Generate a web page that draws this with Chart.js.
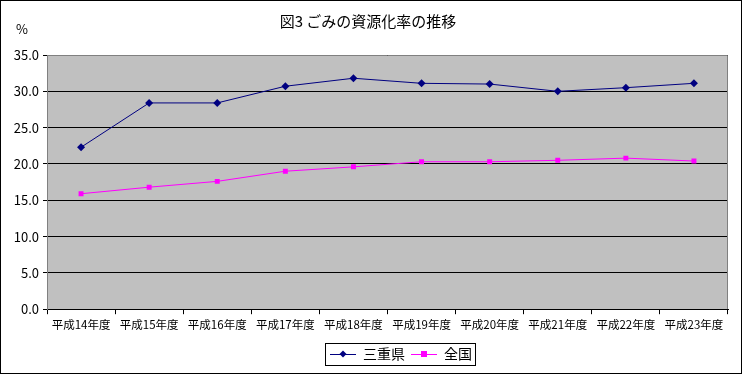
<!DOCTYPE html>
<html><head><meta charset="utf-8">
<script src="https://cdn.jsdelivr.net/npm/chart.js@4/dist/chart.umd.min.js"></script>
<style>html,body{margin:0;padding:0;background:#fff}canvas{display:block}</style>
</head><body>
<canvas id="c" width="742" height="374"></canvas>
<script>
const categories = ['平成14年度','平成15年度','平成16年度','平成17年度','平成18年度','平成19年度','平成20年度','平成21年度','平成22年度','平成23年度'];
const mie = [22.3, 28.4, 28.4, 30.7, 31.8, 31.1, 31.0, 30.0, 30.5, 31.1];
const zenkoku = [15.9, 16.8, 17.6, 19.0, 19.6, 20.3, 20.3, 20.5, 20.8, 20.4];
const seriesNames = ['三重県', '全国'];
const titleText = '図3 ごみの資源化率の推移';
const unitLabel = '%';

const FONT = "'Noto Sans CJK JP', 'DejaVu Sans', sans-serif";
const colors = ['#000080', '#FF00FF'];
const styles = ['rectRot', 'rect'];
const LEGEND_SHIFT = 33;

function legendIcon(color, style) {
  const cv = document.createElement('canvas');
  cv.width = 26; cv.height = 10;
  const g = cv.getContext('2d');
  g.strokeStyle = color; g.lineWidth = 1;
  g.beginPath(); g.moveTo(0, 5.5); g.lineTo(26, 5.5); g.stroke();
  g.fillStyle = color;
  if (style === 'rectRot') {
    g.beginPath(); g.moveTo(13, 1.5); g.lineTo(16.5, 5); g.lineTo(13, 8.5); g.lineTo(9.5, 5); g.closePath(); g.fill();
  } else {
    g.fillRect(10, 2, 6, 6);
  }
  return cv;
}

const decor = {
  id: 'decor',
  afterLayout(chart) {
    if (chart.legend) { chart.legend.left += LEGEND_SHIFT; chart.legend.right += LEGEND_SHIFT; }
  },
  beforeDraw(chart) {
    const {ctx, chartArea: a} = chart;
    ctx.save();
    ctx.fillStyle = '#fff';
    ctx.fillRect(0, 0, chart.width, chart.height);
    ctx.fillStyle = '#C0C0C0';
    ctx.fillRect(a.left, a.top, a.right - a.left, a.bottom - a.top);
    ctx.restore();
  },
  beforeDatasetsDraw(chart) {
    const {ctx, chartArea: a} = chart;
    ctx.save();
    ctx.strokeStyle = '#808080'; ctx.lineWidth = 1;
    ctx.beginPath();
    ctx.moveTo(Math.round(a.left) + 0.5, Math.round(a.bottom));
    ctx.lineTo(Math.round(a.left) + 0.5, Math.round(a.top) + 0.5);
    ctx.lineTo(Math.round(a.right) - 0.5, Math.round(a.top) + 0.5);
    ctx.lineTo(Math.round(a.right) - 0.5, Math.round(a.bottom));
    ctx.stroke();
    ctx.fillStyle = '#000';
    ctx.font = '13px ' + FONT;
    ctx.textAlign = 'center'; ctx.textBaseline = 'middle';
    ctx.fillText(unitLabel, 22, 29);
    ctx.restore();
  },
  afterDraw(chart) {
    const {ctx} = chart;
    ctx.save();
    const hb = chart.legend.legendHitBoxes;
    if (hb && hb.length) {
      let l = Infinity, r = -Infinity, t = Infinity, b = -Infinity;
      hb.forEach(h => { l = Math.min(l, h.left); r = Math.max(r, h.left + h.width); t = Math.min(t, h.top); b = Math.max(b, h.top + h.height); });
      ctx.strokeStyle = '#000'; ctx.lineWidth = 1;
      ctx.strokeRect(Math.round(l - 5) + 0.5, Math.round(t - 4) + 0.5, Math.round(r - l + 8), Math.round(b - t + 8));
    }
    ctx.strokeStyle = '#000'; ctx.lineWidth = 1;
    ctx.strokeRect(0.5, 0.5, chart.width - 1, chart.height - 1);
    ctx.restore();
  }
};

new Chart(document.getElementById('c'), {
  type: 'line',
  data: {
    labels: categories,
    datasets: [
      { label: seriesNames[0], data: mie, borderColor: colors[0], backgroundColor: colors[0], borderWidth: 1, pointStyle: styles[0], pointRadius: 4, pointBorderWidth: 0, tension: 0 },
      { label: seriesNames[1], data: zenkoku, borderColor: colors[1], backgroundColor: colors[1], borderWidth: 1, pointStyle: styles[1], pointRadius: 3.5, pointBorderWidth: 0, tension: 0 }
    ]
  },
  options: {
    responsive: false,
    devicePixelRatio: 1,
    animation: false,
    layout: { padding: { left: 8, right: 14, top: 0, bottom: 3 } },
    plugins: {
      title: { display: true, text: titleText, color: '#000', font: { family: FONT, size: 15, weight: 'normal' }, padding: { top: 12, bottom: 25 } },
      tooltip: { enabled: false },
      legend: {
        position: 'bottom',
        labels: {
          color: '#000',
          font: { family: FONT, size: 14 },
          usePointStyle: true,
          pointStyleWidth: 26,
          boxHeight: 10,
          padding: 6,
          generateLabels(chart) {
            return chart.data.datasets.map((d, i) => ({
              text: d.label, pointStyle: legendIcon(colors[i], styles[i]), fillStyle: colors[i], strokeStyle: colors[i], lineWidth: 0, datasetIndex: i, fontColor: '#000'
            }));
          }
        }
      }
    },
    scales: {
      x: {
        offset: true,
        afterFit(s) { s.height += 5; },
        grid: { display: true, offset: true, drawOnChartArea: false, drawTicks: true, tickLength: 5, color: '#000' },
        border: { display: true, color: '#000' },
        ticks: { color: '#000', font: { family: FONT, size: 11.5 }, maxRotation: 0, autoSkip: false, padding: 4 }
      },
      y: {
        min: 0, max: 35,
        afterFit(s) { s.width = 39; },
        grid: { color: '#000', drawTicks: true, tickLength: 4 },
        border: { display: true, color: '#808080' },
        ticks: { stepSize: 5, color: '#000', font: { family: FONT, size: 13 }, padding: 4, callback: v => Number(v).toFixed(1) }
      }
    }
  },
  plugins: [decor]
});
</script>
</body></html>
